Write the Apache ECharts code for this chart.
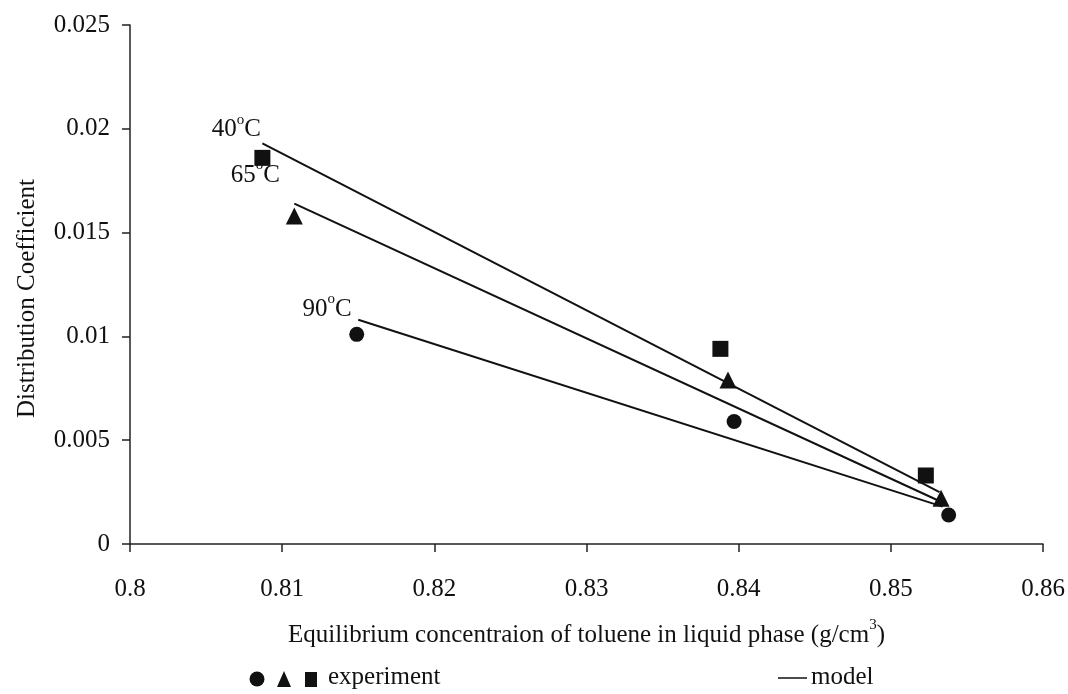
<!DOCTYPE html>
<html>
<head>
<meta charset="utf-8">
<script src="https://cdn.jsdelivr.net/npm/echarts@6/dist/echarts.min.js"></script>
<style>
  html, body { margin: 0; padding: 0; background: #fff; }
  #chart { width: 1068px; height: 694px; }
</style>
</head>
<body>
<div id="chart"></div>
<script>
// Experimental distribution coefficients [concentration, K]
const exp40 = [[0.8087, 0.0186], [0.8388, 0.0094], [0.8523, 0.0033]];
const exp65 = [[0.8108, 0.0158], [0.8393, 0.0079], [0.8533, 0.0022]];
const exp90 = [[0.8149, 0.0101], [0.8397, 0.0059], [0.8538, 0.0014]];

// Model lines (start and end points)
const model40 = [[0.8087, 0.0193], [0.8532, 0.0025]];
const model65 = [[0.8108, 0.0164], [0.8534, 0.0020]];
const model90 = [[0.8150, 0.0108], [0.8534, 0.0018]];

const tempLabels = ['40', '65', '90'];

const xTicks = { min: 0.8, max: 0.86, interval: 0.01 };
const yTicks = { min: 0, max: 0.025, interval: 0.005 };

const FONT = '"Liberation Serif", "DejaVu Serif", serif';
const INK = '#111';
const FS = 25;

// Base text sits on the bottom of the line box, superscript hangs from the top
const supRich = {
  base: { fontFamily: FONT, fontSize: FS, color: INK, verticalAlign: 'bottom' },
  sup: { fontFamily: FONT, fontSize: 15, color: INK, verticalAlign: 'top', padding: [0, 0, 15, 0] }
};

function tempLabel(t, offset, dist) {
  return {
    show: true,
    position: 'left',
    distance: dist,
    offset: offset,
    formatter: '{base|' + t + '}{sup|o}{base|C}',
    rich: supRich
  };
}

function modelSeries(data, t, offset, dist) {
  return {
    type: 'line',
    data: data.map((p, i) => i === 0 ? { value: p, label: tempLabel(t, offset, dist) } : { value: p }),
    showSymbol: true,
    symbol: 'circle',
    symbolSize: 1,
    itemStyle: { color: 'rgba(0,0,0,0)' },
    lineStyle: { color: INK, width: 2 },
    silent: true,
    z: 2
  };
}

function expSeries(data, symbol, size) {
  return {
    type: 'scatter',
    data: data,
    symbol: symbol,
    symbolSize: size,
    itemStyle: { color: INK, opacity: 1 },
    z: 3
  };
}

const chart = echarts.init(document.getElementById('chart'), null, { renderer: 'canvas' });

chart.setOption({
  animation: false,
  backgroundColor: '#fff',
  grid: { left: 130, right: 25, top: 25, bottom: 150, containLabel: false },
  xAxis: {
    type: 'value',
    min: xTicks.min, max: xTicks.max, interval: xTicks.interval,
    axisLine: { lineStyle: { color: '#222', width: 1.5 } },
    axisTick: { show: true, inside: false, length: 8, lineStyle: { color: '#222', width: 1.5 } },
    splitLine: { show: false },
    axisLabel: {
      margin: 33, fontFamily: FONT, fontSize: FS, color: INK,
      formatter: v => String(Number(v.toFixed(3)))
    },
    name: '{base|Equilibrium concentraion of toluene in liquid phase (g/cm}{sup|3}{base|)}',
    nameLocation: 'middle',
    nameGap: 74,
    nameTextStyle: { rich: supRich }
  },
  yAxis: {
    type: 'value',
    min: yTicks.min, max: yTicks.max, interval: yTicks.interval,
    axisLine: { show: true, lineStyle: { color: '#222', width: 1.5 } },
    axisTick: { show: true, inside: false, length: 8, lineStyle: { color: '#222', width: 1.5 } },
    splitLine: { show: false },
    axisLabel: {
      margin: 20, fontFamily: FONT, fontSize: FS, color: INK,
      formatter: v => String(Number(v.toFixed(4)))
    },
    name: 'Distribution Coefficient',
    nameLocation: 'middle',
    nameGap: 90,
    nameTextStyle: { fontFamily: FONT, fontSize: FS, color: INK, padding: [0, 28, 0, 0] }
  },
  series: [
    modelSeries(model40, tempLabels[0], [0, -16], 1),
    modelSeries(model65, tempLabels[1], [0, -31], 14),
    modelSeries(model90, tempLabels[2], [0, -13], 6),
    expSeries(exp40, 'rect', 16),
    expSeries(exp65, 'triangle', 17),
    expSeries(exp90, 'circle', 15)
  ],
  graphic: [
    { type: 'circle', shape: { cx: 257, cy: 679, r: 7.5 }, style: { fill: INK } },
    { type: 'polygon', shape: { points: [[284, 671], [291, 687], [277, 687]] }, style: { fill: INK } },
    { type: 'rect', shape: { x: 305, y: 672, width: 12, height: 15 }, style: { fill: INK } },
    { type: 'text', left: 328, top: 665, style: { text: 'experiment', font: FS + 'px ' + FONT, fill: INK } },
    { type: 'line', shape: { x1: 778, y1: 678, x2: 807, y2: 678 }, style: { stroke: INK, lineWidth: 1.5 } },
    { type: 'text', left: 811, top: 665, style: { text: 'model', font: FS + 'px ' + FONT, fill: INK } }
  ]
});
</script>
</body>
</html>
